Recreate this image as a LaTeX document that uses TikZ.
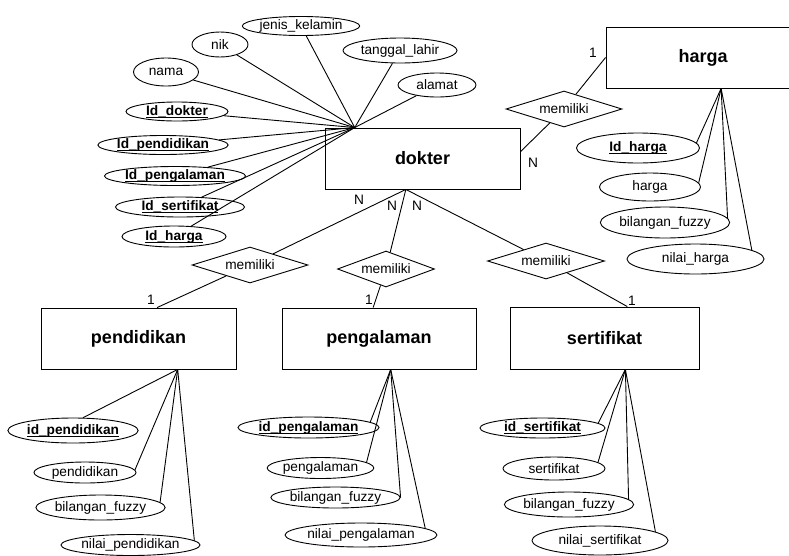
\documentclass[tikz,border=0pt]{standalone}
\usepackage{fontspec}
\setmainfont{Liberation Sans}
\usetikzlibrary{shapes.geometric,calc}
\newcommand\keyattr[1]{\underline{\raisebox{0pt}[\height][0pt]{\textbf{#1}}}}
\begin{document}
\begin{tikzpicture}[x=1pt, y=-1pt, line width=0.9pt,
  ent/.style = {draw, rectangle, inner sep=0pt, font=\bfseries\fontsize{18}{21}\selectfont},
  attr/.style = {draw, ellipse, inner sep=0pt, font=\fontsize{13.7}{16}\selectfont},
  rel/.style = {draw, diamond, aspect=3, inner sep=0pt, minimum height=36pt, font=\fontsize{13.7}{16}\selectfont},
  card/.style = {inner sep=0pt, font=\fontsize{13.7}{16}\selectfont},
  sz/.style 2 args = {minimum width=#1pt, minimum height=#2pt}]
\useasboundingbox (0,0) rectangle (789,555);
% entitas
\node[ent, sz={195}{61}] (dokter) at (422.5,158.5) {dokter};
\node[ent, sz={194}{61}] (harga) at (703,57.5) {harga};
\node[ent, sz={195}{61}] (pendidikan) at (138.5,338.5) {pendidikan};
\node[ent, sz={194}{61}] (pengalaman) at (379,338.5) {pengalaman};
\node[ent, sz={189}{62}] (sertifikat) at (604.5,338) {sertifikat};
\coordinate (dtop) at ($(dokter.north west)!0.154!(dokter.north east)$);
\coordinate (dbot) at ($(dokter.south west)!0.415!(dokter.south east)$);
\coordinate (dright) at ($(dokter.north east)!0.39!(dokter.south east)$);
\coordinate (hbot) at ($(harga.south west)!0.593!(harga.south east)$);
\coordinate (pdtop) at ($(pendidikan.north west)!0.595!(pendidikan.north east)$);
\coordinate (pdbot) at ($(pendidikan.south west)!0.70!(pendidikan.south east)$);
\coordinate (pgtop) at ($(pengalaman.north west)!0.47!(pengalaman.north east)$);
\coordinate (pgbot) at ($(pengalaman.south west)!0.56!(pengalaman.south east)$);
\coordinate (sttop) at ($(sertifikat.north west)!0.62!(sertifikat.north east)$);
\coordinate (stbot) at ($(sertifikat.south west)!0.61!(sertifikat.south east)$);
% relasi
\node[rel, minimum width=116pt] (relharga) at (564,109) {memiliki};
\node[rel, minimum width=116pt] (relpend) at (250,265) {memiliki};
\node[rel, minimum width=97pt] (relpeng) at (386,269) {memiliki};
\node[rel, minimum width=117pt] (relsert) at (546,261) {memiliki};
\draw (harga.west) -- (relharga) -- (dright);
\draw (dbot) -- (relpend) -- (pdtop);
\draw (dbot) -- (relpeng) -- (pgtop);
\draw (dbot) -- (relsert) -- (sttop);
\node[card] (c1) at (593,53) {1};
\node[card] (c2) at (533,163) {N};
\node[card] (c3) at (359,200) {N};
\node[card] (c4) at (392,206) {N};
\node[card] (c5) at (417,206) {N};
\node[card] (c6) at (151,300) {1};
\node[card] (c7) at (369,300) {1};
\node[card] (c8) at (632,301) {1};
% atribut dokter
\node[attr, sz={114}{19}] (jk) at (301,26) {jenis\_kelamin};
\node[attr, sz={56}{25}] (nik) at (220,44.5) {nik};
\node[attr, sz={65}{28}] (nama) at (166,72) {nama};
\node[attr, sz={114}{25}] (tgl) at (400,50.5) {tanggal\_lahir};
\node[attr, sz={78}{24}] (alamat) at (437,85) {alamat};
\node[attr, sz={102}{19}] (iddok) at (177,111.5) {\keyattr{Id\_dokter}};
\node[attr, sz={128}{19}] (idpd) at (163,145) {\keyattr{Id\_pendidikan}};
\node[attr, sz={124}{19}] (idpg) at (175,176) {\keyattr{Id\_pengalaman}};
\node[attr, sz={129}{20}] (idst) at (180,207) {\keyattr{Id\_sertifikat}};
\node[attr, sz={104}{21}] (idhg) at (174,236.5) {\keyattr{Id\_harga}};
\foreach \a in {jk,nik,nama,tgl,alamat,iddok,idpd,idpg,idst,idhg}
  \draw (\a) -- (dtop);
% atribut harga
\node[attr, sz={123}{30}] (h1) at (638,148) {\keyattr{Id\_harga}};
\node[attr, sz={101}{28}] (h2) at (650,187) {harga};
\node[attr, sz={111}{31}] (h3) at (665,222.5) {bilangan\_fuzzy};
\node[attr, sz={137}{30}] (h4) at (695.5,259) {nilai\_harga};
\draw (hbot) -- (h1.5);
\draw (hbot) -- (h2.5);
\draw (hbot) -- (h3.4);
\draw (hbot) -- (h4.9);
% atribut pendidikan
\node[attr, sz={126}{25}] (pd1) at (73,430.5) {\keyattr{id\_pendidikan}};
\node[attr, sz={102}{21}] (pd2) at (85,472.5) {pendidikan};
\node[attr, sz={113}{25}] (pd3) at (100.5,507.5) {bilangan\_fuzzy};
\node[attr, sz={137}{21}] (pd4) at (130.5,545) {nilai\_pendidikan};
\draw (pdbot) -- (pd1.52);
\draw (pdbot) -- (pd2.3);
\draw (pdbot) -- (pd3.5);
\draw (pdbot) -- (pd4.4);
% atribut pengalaman
\node[attr, sz={123}{21}] (pg1) at (308.5,427.5) {\keyattr{id\_pengalaman}};
\node[attr, sz={103}{21}] (pg2) at (320.5,468) {pengalaman};
\node[attr, sz={113}{21}] (pg3) at (335.5,497.5) {bilangan\_fuzzy};
\node[attr, sz={148}{24}] (pg4) at (361,535) {nilai\_pengalaman};
\draw (pgbot) -- (pg1.5);
\draw (pgbot) -- (pg2.7);
\draw (pgbot) -- (pg3.east);
\draw (pgbot) -- (pg4.6);
% atribut sertifikat
\node[attr, sz={125}{20}] (st1) at (542.5,428) {\keyattr{id\_sertifikat}};
\node[attr, sz={102}{23}] (st2) at (554,468.5) {sertifikat};
\node[attr, sz={112}{25}] (st3) at (569,504.5) {bilangan\_fuzzy};
\node[attr, sz={136}{29}] (st4) at (600,540.5) {nilai\_sertifikat};
\draw (stbot) -- (st1.5);
\draw (stbot) -- (st2.8);
\draw (stbot) -- (st3.5);
\draw (stbot) -- (st4.9);
\end{tikzpicture}
\end{document}
